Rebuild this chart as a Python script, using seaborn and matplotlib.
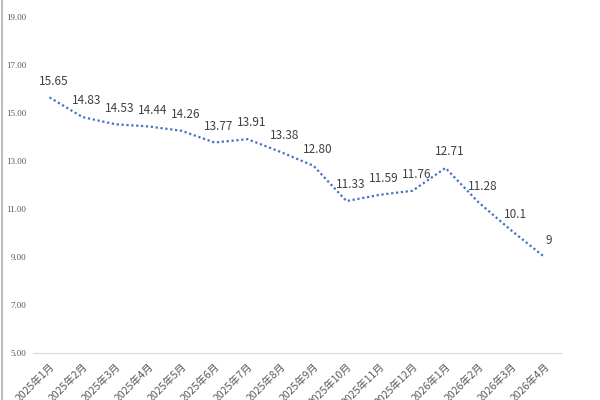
import pandas as pd
import matplotlib.pyplot as plt
import seaborn as sns

months = ["2025年1月", "2025年2月", "2025年3月", "2025年4月", "2025年5月", "2025年6月",
          "2025年7月", "2025年8月", "2025年9月", "2025年10月", "2025年11月", "2025年12月",
          "2026年1月", "2026年2月", "2026年3月", "2026年4月"]
values = [15.65, 14.83, 14.53, 14.44, 14.26, 13.77, 13.91, 13.38, 12.80,
          11.33, 11.59, 11.76, 12.71, 11.28, 10.1, 9]
value_labels = ["15.65", "14.83", "14.53", "14.44", "14.26", "13.77", "13.91", "13.38",
                "12.80", "11.33", "11.59", "11.76", "12.71", "11.28", "10.1", "9"]
y_ticks = [5, 7, 9, 11, 13, 15, 17, 19]


def plot_line(df):
    fig = plt.figure(figsize=(6, 4), dpi=100)
    ax = fig.add_axes([0.055, 0.1175, 0.88, 0.84])
    pos = list(range(len(df)))
    sns.lineplot(x=pos, y=df["value"], ax=ax, color="#4472C4",
                 linestyle=(0, (1, 1.2)), linewidth=1.6)
    for i, (v, lab) in enumerate(zip(df["value"], df["label"])):
        ax.annotate(lab, (i, v), xytext=(3, 7), textcoords="offset points",
                    ha="center", va="bottom", fontsize=8.5, color="#404040")

    ax.set_xlim(-0.5, len(df) - 0.5)
    ax.set_ylim(5, 19)
    ax.set_yticks(y_ticks)
    ax.set_yticklabels([f"{t:.2f}" for t in y_ticks], fontsize=6.5,
                       family="Liberation Serif", color="#595959")
    ax.set_xticks(pos)
    ax.set_xticklabels(df["month"], rotation=45, ha="right", rotation_mode="anchor",
                       fontsize=7.5, color="#595959")
    ax.set_xticks([p - 0.5 for p in pos] + [len(df) - 0.5], minor=True)
    ax.tick_params(axis="x", which="major", length=0, pad=6)
    ax.tick_params(axis="x", which="minor", length=4, color="#D9D9D9")
    ax.tick_params(axis="y", length=0, pad=5)

    for s in ["top", "right", "left"]:
        ax.spines[s].set_visible(False)
    ax.spines["bottom"].set_color("#D9D9D9")
    ax.set_xlabel("")
    ax.set_ylabel("")
    ax.grid(False)
    fig.add_artist(plt.Line2D([0.003, 0.003], [0, 1], color="#BFBFBF", linewidth=1.5))
    fig.savefig("out.png", dpi=100)
    plt.close(fig)


def main():
    sns.set_style("white")
    plt.rcParams["font.family"] = ["Noto Sans CJK SC", "DejaVu Sans"]
    df = pd.DataFrame({"month": months, "value": values, "label": value_labels})
    plot_line(df)


if __name__ == "__main__":
    main()
